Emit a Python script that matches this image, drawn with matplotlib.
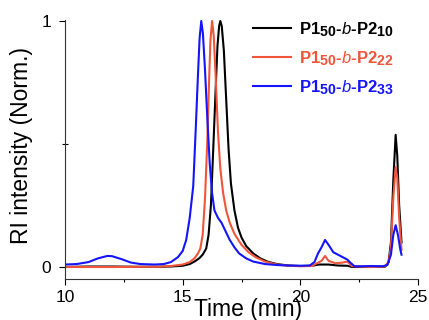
import matplotlib
matplotlib.use("Agg")
import matplotlib.pyplot as plt
import matplotlib._mathtext as _mt

_mt.SHRINK_FACTOR = 0.85

plt.rcParams['font.family'] = ['Liberation Sans', 'DejaVu Sans']
plt.rcParams['mathtext.fontset'] = 'custom'
plt.rcParams['mathtext.rm'] = 'Liberation Sans'
plt.rcParams['mathtext.bf'] = 'Liberation Sans:bold'
plt.rcParams['mathtext.it'] = 'Liberation Sans:italic'

# ---- data ----
t_black = [10.0, 11.0, 12.0, 13.0, 14.0, 14.5, 15.0, 15.3, 15.5, 15.7, 15.85, 16.0, 16.1, 16.2, 16.3,
           16.4, 16.48, 16.55, 16.6, 16.66, 16.75, 16.85, 16.95, 17.05, 17.2, 17.35, 17.5, 17.7, 18.0,
           18.3, 18.6, 19.0, 19.5, 20.0, 20.5, 20.8, 21.2, 21.6, 22.0, 22.2, 23.0, 23.6, 23.75, 23.85,
           23.95, 24.05, 24.12, 24.2, 24.3]
y_black = [0.0, 0.002, 0.002, 0.001, 0.001, 0.002, 0.005, 0.012, 0.022, 0.035, 0.05, 0.075, 0.13, 0.25, 0.48,
           0.72, 0.90, 0.98, 1.0, 0.98, 0.88, 0.68, 0.48, 0.34, 0.23, 0.16, 0.12, 0.085, 0.055,
           0.035, 0.022, 0.012, 0.006, 0.004, 0.005, 0.010, 0.010, 0.006, 0.005, 0.0, 0.0, 0.001, 0.02, 0.10,
           0.35, 0.537, 0.45, 0.25, 0.10]

t_red = [10.0, 12.0, 14.0, 14.5, 15.0, 15.3, 15.5, 15.65, 15.75, 15.85, 15.95, 16.05, 16.12, 16.18, 16.25,
         16.32, 16.4, 16.5, 16.6, 16.72, 16.85, 17.0, 17.2, 17.5, 17.8, 18.1, 18.5, 19.0, 19.5, 20.0,
         20.5, 20.7, 20.9, 21.05, 21.2, 21.5, 21.8, 22.0, 22.2, 23.0, 23.6, 23.75, 23.85, 23.95, 24.05,
         24.12, 24.2, 24.3]
y_red = [0.0, 0.0, 0.001, 0.004, 0.01, 0.02, 0.035, 0.055, 0.075, 0.13, 0.28, 0.52, 0.75, 0.92, 1.0,
         0.94, 0.78, 0.55, 0.40, 0.30, 0.23, 0.18, 0.135, 0.09, 0.06, 0.04, 0.022, 0.01, 0.005, 0.003,
         0.004, 0.015, 0.025, 0.045, 0.025, 0.015, 0.018, 0.022, 0.003, 0.0, 0.002, 0.02, 0.08, 0.28, 0.406,
         0.36, 0.2, 0.07]

t_blue = [10.0, 10.5, 11.0, 11.4, 11.8, 12.0, 12.4, 12.8, 13.2, 13.8, 14.2, 14.5, 14.8, 15.0, 15.15,
          15.3, 15.45, 15.55, 15.65, 15.72, 15.79, 15.86, 15.95, 16.05, 16.15, 16.25, 16.35, 16.5, 16.65,
          16.8, 17.0, 17.2, 17.4, 17.7, 18.0, 18.5, 19.0, 19.5, 20.0, 20.4, 20.6, 20.75, 20.9, 21.05,
          21.2, 21.4, 21.7, 22.0, 22.1, 22.3, 22.6, 23.0, 23.5, 23.7, 23.85, 23.95, 24.05, 24.15, 24.25, 24.3]
y_blue = [0.010, 0.012, 0.020, 0.035, 0.045, 0.044, 0.032, 0.018, 0.012, 0.010, 0.012, 0.020, 0.040, 0.065, 0.11,
          0.20, 0.33, 0.55, 0.78, 0.93, 1.0, 0.95, 0.80, 0.60, 0.42, 0.30, 0.23, 0.20, 0.18,
          0.15, 0.11, 0.08, 0.055, 0.035, 0.022, 0.012, 0.008, 0.006, 0.005, 0.006, 0.02, 0.055, 0.08, 0.11,
          0.09, 0.06, 0.045, 0.03, 0.02, 0.003, 0.003, 0.004, 0.003, 0.008, 0.05, 0.13, 0.17, 0.13, 0.07, 0.05]

labels = [r'P1$_{\mathbf{50}}$-$\mathit{b}$-P2$_{\mathbf{10}}$',
          r'P1$_{\mathbf{50}}$-$\mathit{b}$-P2$_{\mathbf{22}}$',
          r'P1$_{\mathbf{50}}$-$\mathit{b}$-P2$_{\mathbf{33}}$']
colors = ['#000000', '#f0553a', '#1414ff']

xticks = [10, 15, 20, 25]
yticks = [0, 1]

fig = plt.figure(figsize=(4.29, 3.2), dpi=100)
ax = fig.add_axes([65/429, 1 - 279/320, 353/429, 259/320])

for t, y, c, lab in zip([t_black, t_red, t_blue], [y_black, y_red, y_blue], colors, labels):
    ax.plot(t, y, color=c, lw=1.5, label=lab)

ax.set_xlim(10, 25)
ax.set_ylim(-0.0488, 1.004)
ax.set_xticks(xticks)
ax.set_xticks([12.5, 17.5, 22.5], minor=True)
ax.set_yticks(yticks)
ax.set_yticks([0.5], minor=True)
ax.tick_params(axis='both', which='major', length=4, width=0.8, direction='out', labelsize=12.5)
ax.tick_params(axis='x', which='major', pad=4)
ax.tick_params(axis='y', which='major', pad=6)
ax.tick_params(axis='both', which='minor', length=2.5, width=0.8, direction='out')
ax.tick_params(axis='y', which='minor', direction='inout', length=4)
for s in ['top', 'right']:
    ax.spines[s].set_visible(False)
for s in ['left', 'bottom']:
    ax.spines[s].set_linewidth(0.8)
    ax.spines[s].set_color('#333333')

ax.set_xlabel('Time (min)', fontsize=16.5)
ax.xaxis.set_label_coords(0.518, -0.075)
ax.set_ylabel('RI intensity (Norm.)', fontsize=16.5)
ax.yaxis.set_label_coords(-0.09, 0.517)

leg = ax.legend(loc='upper left', bbox_to_anchor=(253/429, 1 - 20/320), bbox_transform=fig.transFigure,
                frameon=False, prop={'weight': 'bold', 'size': 12}, handlelength=2.3, handletextpad=0.45,
                borderpad=0, borderaxespad=0, labelspacing=0.62, labelcolor='linecolor')

fig.savefig('out.png', dpi=100)
